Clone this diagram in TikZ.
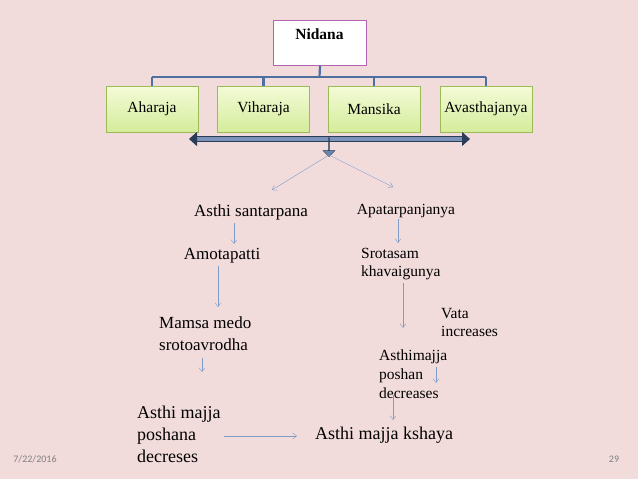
\documentclass[tikz,border=0pt]{standalone}
\usepackage{fontspec}
\setmainfont{Liberation Serif}
\setsansfont{Carlito}
\usetikzlibrary{arrows.meta,shapes.arrows}
\definecolor{bg}{HTML}{F2DCDB}
\definecolor{ln}{HTML}{4F6FA0}
\definecolor{thin}{HTML}{7F9BC8}
\definecolor{gtop}{HTML}{F4FBD8}
\definecolor{gbot}{HTML}{D4EC9A}
\definecolor{gedge}{HTML}{9BBB59}
\tikzset{
  green/.style={draw=gedge,top color=gtop,bottom color=gbot,minimum width=92pt,minimum height=46pt,font=\fontsize{15.5}{17}\selectfont,inner sep=1pt},
  txt/.style={font=\fontsize{17}{22}\selectfont,align=left,inner sep=0pt},
  mid/.style={font=\fontsize{15.5}{18}\selectfont,align=left,inner sep=0pt},
  big/.style={font=\fontsize{18}{22}\selectfont,align=left,inner sep=0pt},
  ar/.style={-{Straight Barb[length=4pt,width=6pt]},thin,draw=thin},
  conn/.style={draw=ln,line width=2.2pt}
}
\begin{document}
\begin{tikzpicture}[x=1pt,y=-1pt]
\fill[bg] (0,0) rectangle (638,479);
\useasboundingbox (0,0) rectangle (638,479);
\node[draw=violet!60,line width=1pt,fill=white,minimum width=93pt,minimum height=45pt,anchor=north west,inner sep=0pt] (nid) at (273,20) {};
\node[font=\bfseries\fontsize{15.5}{17}\selectfont] (nidt) at (319.5,34) {Nidana};
\coordinate (bl) at (152,77); \coordinate (br) at (486,77);
\draw[conn] (nid.south) -- (319.5,77);
\draw[conn] (bl) -- (br);
\draw[conn] (bl) -- (152,87);
\draw[conn] (263.5,77) -- (263.5,87);
\draw[conn] (374,77) -- (374,87);
\draw[conn] (br) -- (486,87);
\node[green] (a) at (152,109) {Aharaja};
\node[green] (v) at (263.5,109) {Viharaja};
\node[green] (m) at (374,109) {Mansika};
\node[green] (av) at (486,109) {Avasthajanya};
\coordinate (dl) at (189,139); \coordinate (dr) at (470,139);
\draw[double=ln!75!white,draw=ln!55!black,double distance=3.5pt,line width=0.9pt,{Triangle[length=8pt,width=14pt]}-{Triangle[length=8pt,width=14pt]}] (dl) -- (dr);
\node[single arrow,draw=ln!55!black,fill=ln!85!white,shape border rotate=270,minimum height=19pt,single arrow head extend=3.5pt,minimum width=12pt,inner sep=0pt] (da) at (329,147) {};
\coordinate (sp) at (329,155);
\node[txt] (as) at (251,212) {Asthi santarpana};
\node[mid] (ap) at (406,211) {Apatarpanjanya};
\draw[ar] (sp) -- (272,190);
\draw[ar] (sp) -- (393,187);
\node[txt] (am) at (222,256) {Amotapatti};
\draw[ar] (234,223) -- (234,244);
\node[txt,anchor=west] (mm) at (159,334) {Mamsa medo\\srotoavrodha};
\draw[ar] (218,266) -- (218,307);
\node[big,anchor=west] (amp) at (137,434) {Asthi majja\\poshana\\decreses};
\draw[ar] (202,358) -- (202,372);
\node[big] (ak) at (384,435) {Asthi majja kshaya};
\draw[ar] (224,436) -- (297,436);
\node[mid,anchor=west] (sk) at (361,264) {Srotasam\\khavaigunya};
\draw[ar] (398,219) -- (398,243);
\node[mid,anchor=west] (vi) at (441,322) {Vata\\increases};
\draw[ar] (403,283) -- (403,328);
\node[mid,font=\fontsize{15.5}{19}\selectfont,anchor=west] (apd) at (379,374) {Asthimajja\\poshan\\decreases};
\draw[ar] (436,367) -- (436,383);
\draw[ar] (393,395) -- (393,420);
\node[font=\sffamily\fontsize{10}{11}\selectfont,text=gray] (dt) at (35,459) {7/22/2016};
\node[font=\sffamily\fontsize{10}{11}\selectfont,text=gray] (pg) at (614,459) {29};
\end{tikzpicture}
\end{document}
